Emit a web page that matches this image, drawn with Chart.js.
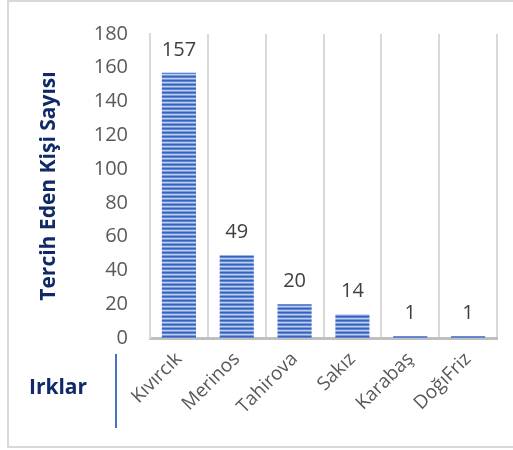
<!DOCTYPE html>
<html>
<head>
<meta charset="utf-8">
<script src="https://cdn.jsdelivr.net/npm/chart.js@4"></script>
<style>
  html, body { margin: 0; padding: 0; background: #fff; }
  #wrap { position: relative; width: 513px; height: 450px; }
</style>
</head>
<body>
<div id="wrap"><canvas id="chartIrklar" width="513" height="450"></canvas></div>
<script>
const irklar = ["Kıvırcık", "Merinos", "Tahirova", "Sakız", "Karabaş", "DoğıFriz"];
const kisiSayisi = [157, 49, 20, 14, 1, 1];
const yTicks = [0, 20, 40, 60, 80, 100, 120, 140, 160, 180];

// yatay çizgili desen (Excel dolgusu gibi)
function cizgiliDesen() {
  const c = document.createElement("canvas");
  c.width = 8; c.height = 4;
  const g = c.getContext("2d");
  const renkler = ["#3763bd", "#5f84d2", "#bfcff0", "#7a9ad9"];
  renkler.forEach((r, i) => { g.fillStyle = r; g.fillRect(0, i, 8, 1); });
  return g.createPattern(c, "repeat");
}

// değer etiketleri + çerçeve + "Irklar" başlığı
const ekstraCizim = {
  id: "ekstraCizim",
  beforeDraw(chart) {
    const ctx = chart.ctx;
    ctx.save();
    ctx.strokeStyle = "#d9d9d9";
    ctx.lineWidth = 2;
    ctx.strokeRect(8, 1, 520, 446);
    ctx.restore();
  },
  afterDatasetsDraw(chart) {
    const ctx = chart.ctx;
    const meta = chart.getDatasetMeta(0);
    ctx.save();
    ctx.font = "20px 'Open Sans'";
    ctx.fillStyle = "#404040";
    ctx.textAlign = "center";
    ctx.textBaseline = "middle";
    meta.data.forEach((bar, i) => {
      ctx.fillText(String(kisiSayisi[i]), bar.x, bar.y - 23);
    });
    // x ekseni başlığı
    ctx.font = "bold 21px 'Open Sans'";
    ctx.fillStyle = "#0f2a66";
    ctx.fillText("Irklar", 58, 388);
    ctx.strokeStyle = "#4472c4";
    ctx.lineWidth = 2;
    ctx.beginPath();
    ctx.moveTo(116, 354);
    ctx.lineTo(116, 428);
    ctx.stroke();
    ctx.restore();
  }
};

new Chart(document.getElementById("chartIrklar"), {
  type: "bar",
  data: {
    labels: irklar,
    datasets: [{
      data: kisiSayisi,
      backgroundColor: cizgiliDesen(),
      borderWidth: 0,
      barPercentage: 0.59,
      categoryPercentage: 1
    }]
  },
  options: {
    responsive: false,
    animation: false,
    layout: { padding: { left: 8, top: 30, right: 16, bottom: 0 } },
    plugins: { legend: { display: false }, tooltip: { enabled: false } },
    scales: {
      x: {
        grid: { display: true, offset: true, color: "#d9d9d9", lineWidth: 2, drawTicks: false },
        border: { display: true, color: "#bfbfbf", width: 3 },
        ticks: {
          color: "#595959",
          font: { family: "'Open Sans'", size: 19 },
          minRotation: 45,
          maxRotation: 45,
          autoSkip: false,
          padding: 10
        },
        afterFit: (s) => { s.height = 112; }
      },
      y: {
        min: 0,
        max: 180,
        afterBuildTicks: (s) => { s.ticks = yTicks.map(v => ({ value: v })); },
        grid: { display: false, drawTicks: false },
        border: { display: true, color: "#d9d9d9", width: 2 },
        ticks: {
          color: "#595959",
          font: { family: "'Open Sans'", size: 20 },
          padding: 22
        },
        title: {
          display: true,
          text: "Tercih Eden Kişi Sayısı",
          color: "#0f2a66",
          font: { family: "'Open Sans'", size: 21, weight: "bold" },
          padding: { top: 28, bottom: 0 }
        },
        afterFit: (s) => { s.width = 142; }
      }
    }
  },
  plugins: [ekstraCizim]
});
</script>
</body>
</html>
